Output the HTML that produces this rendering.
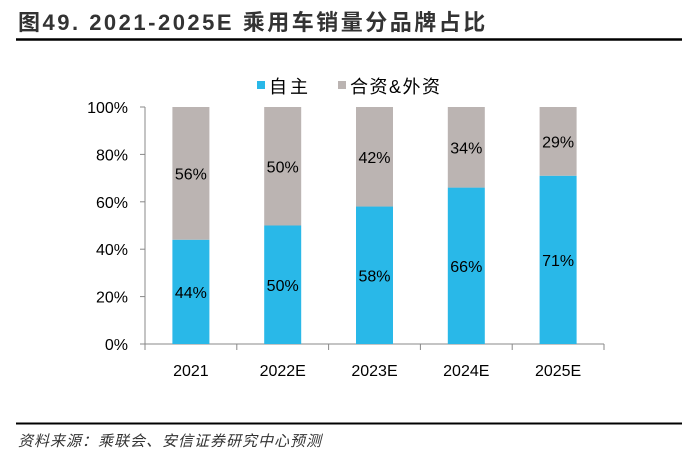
<!DOCTYPE html>
<html><head><meta charset="utf-8"><style>
body{margin:0;width:682px;height:456px;background:#fff;overflow:hidden;font-family:"Liberation Sans","Noto Sans CJK SC",sans-serif;}
</style></head><body>
<svg width="682" height="456" style="position:absolute;left:0;top:0">
<text x="18" y="30" font-size="22" font-weight="bold" letter-spacing="2.5" fill="#333">图49. 2021-2025E 乘用车销量分品牌占比</text>
<line x1="16" y1="39.5" x2="682" y2="39.5" stroke="#000" stroke-width="2.5"/>
<g>
<rect x="257" y="81" width="8" height="8" fill="#29b8e8"/>
<text x="269" y="93" font-size="18" letter-spacing="3" fill="#000">自主</text>
<rect x="338" y="81" width="8" height="8" fill="#bbb4b2"/>
<text x="350" y="93" font-size="18" letter-spacing="1.5" fill="#000">合资&amp;外资</text>
</g>
<g id="plot"></g>
<line x1="16" y1="423.5" x2="682" y2="423.5" stroke="#000" stroke-width="2"/>
<text x="18" y="446" font-size="15" font-style="italic" letter-spacing="1" fill="#333">资料来源：乘联会、安信证券研究中心预测</text>
</svg>
<script>
const categories=["2021","2022E","2023E","2024E","2025E"];
const domestic=[44,50,58,66,71];
const jv=[56,50,42,34,29];
const yTicks=[0,20,40,60,80,100];
const NS="http://www.w3.org/2000/svg";
const g=document.getElementById('plot');
const x0=145,x1=604,yb=344,yt=107;
const bw=(x1-x0)/categories.length;
const y=v=>yb-(v/100)*(yb-yt);
const xc=i=>x0+bw*(i+0.5);
function mk(t,a){const e=document.createElementNS(NS,t);for(const k in a)e.setAttribute(k,a[k]);g.appendChild(e);return e;}
let e=mk('line',{x1:x0,y1:yt,x2:x0,y2:yb,stroke:'#888'});


e=mk('line',{x1:x0,y1:yb,x2:x1,y2:yb,stroke:'#888'});


yTicks.forEach(v=>{
 let t=mk('line',{x1:x0-5,y1:y(v),x2:x0,y2:y(v),stroke:'#888'});
 
 
 let l=mk('text',{x:x0-17,y:y(v)+6,'font-size':16,'text-anchor':'end',fill:'#000'});
 l.textContent=v+'%';
 
 
});
for(let i=0;i<=categories.length;i++){
 let t=mk('line',{x1:x0+bw*i,y1:yb,x2:x0+bw*i,y2:yb+6,stroke:'#888'});
 
 
}
categories.forEach((c,i)=>{
 const bx=xc(i)-18.5;
 let b1=mk('rect',{x:bx,y:y(domestic[i]),width:37,height:yb-y(domestic[i]),fill:'#29b8e8'});
 
 
 let b2=mk('rect',{x:bx,y:y(domestic[i]+jv[i]),width:37,height:y(domestic[i])-y(domestic[i]+jv[i]),fill:'#bbb4b2'});
 
 
 let l1=mk('text',{x:xc(i),y:(y(domestic[i])+yb)/2+6,'font-size':16,'text-anchor':'middle',fill:'#000'});
 l1.textContent=domestic[i]+'%';
 
 
 let l2=mk('text',{x:xc(i),y:(y(domestic[i])+y(100))/2+6,'font-size':16,'text-anchor':'middle',fill:'#000'});
 l2.textContent=jv[i]+'%';
 
 
 let xl=mk('text',{x:xc(i),y:376,'font-size':16,'text-anchor':'middle',fill:'#000'});
 xl.textContent=c;
 
 
});
</script>
</body></html>
